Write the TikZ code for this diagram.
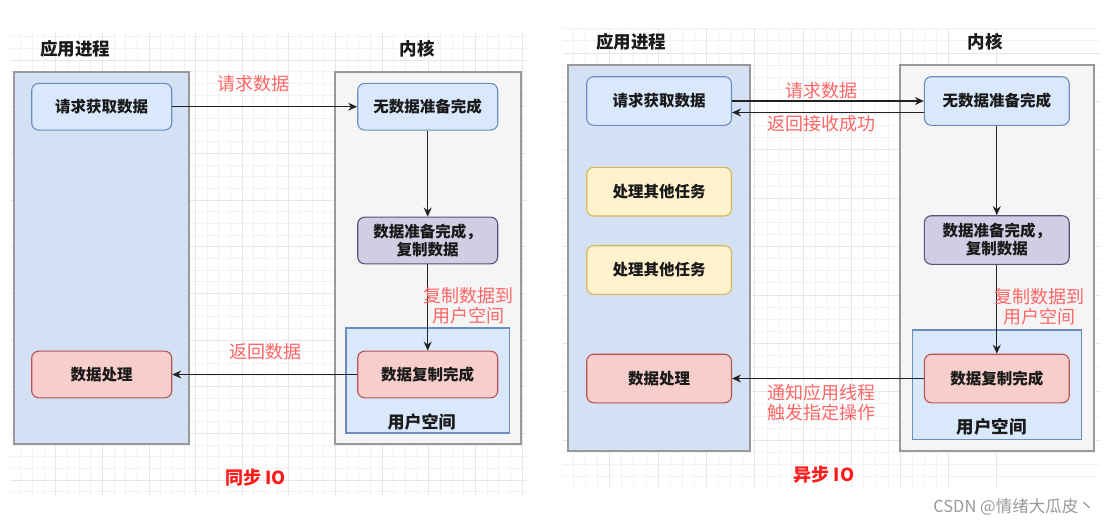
\documentclass[tikz,border=0pt]{standalone}
\usepackage{fontspec}
\setmainfont{Noto Sans CJK SC}
\usetikzlibrary{arrows.meta}
\definecolor{procfill}{HTML}{D4E1F5}
\definecolor{boxline}{HTML}{999999}
\definecolor{kernfill}{HTML}{F5F5F5}
\definecolor{bluefill}{HTML}{DAE8FC}
\definecolor{blueline}{HTML}{6C8EBF}
\definecolor{purpfill}{HTML}{D0CEE2}
\definecolor{purpline}{HTML}{56517E}
\definecolor{redfill}{HTML}{F8CECC}
\definecolor{redline}{HTML}{B85450}
\definecolor{yelfill}{HTML}{FFF2CC}
\definecolor{yelline}{HTML}{D6B656}
\definecolor{labred}{HTML}{FF6666}
\definecolor{iored}{HTML}{FF1A1A}
\definecolor{linecol}{HTML}{222222}
\definecolor{textcol}{HTML}{1A1A1A}
\definecolor{gridminor}{HTML}{F2F2F2}
\definecolor{gridmajor}{HTML}{E6E6E6}
\definecolor{wmcol}{HTML}{9A9A9A}
\tikzset{
  panel/.style={draw=boxline, line width=1.6pt, inner sep=0pt, rectangle},
  procpanel/.style={panel, fill=procfill},
  kernpanel/.style={panel, fill=kernfill},
  userbox/.style={draw=blueline, fill=bluefill, line width=1.1pt, inner sep=0pt, rectangle},
  stepnode/.style={rounded corners=7pt, line width=1.1pt, inner sep=0pt, align=center,
    text=textcol, font=\fontsize{15.5}{18}\selectfont\bfseries},
  bluenode/.style={stepnode, draw=blueline, fill=bluefill},
  purpnode/.style={stepnode, draw=purpline, fill=purpfill},
  rednode/.style={stepnode, draw=redline, fill=redfill},
  yelnode/.style={stepnode, draw=yelline, fill=yelfill},
  wL/.style={minimum width=140pt, minimum height=46.7pt},
  wR/.style={minimum width=144.8pt, minimum height=48.6pt},
  arr/.style={draw=linecol, line width=1.3pt, -{Stealth[length=9pt,width=8pt,inset=3pt]}},
  lab/.style={text=labred, align=center, inner sep=0pt, font=\fontsize{18}{20.5}\selectfont},
  title/.style={text=textcol, inner sep=0pt, font=\fontsize{17.5}{20}\selectfont\bfseries},
  iolab/.style={text=iored, inner sep=0pt, font=\fontsize{18}{20}\selectfont\bfseries},
  gminor/.style={draw=gridminor, line width=0.7pt},
  gmajor/.style={draw=gridmajor, line width=0.8pt}
}
\begin{document}
\begin{tikzpicture}[x=1pt,y=-1pt]
\useasboundingbox (0,0) rectangle (1117,528);
\fill[white] (0,0) rectangle (1117,528);
% ---- grids ----
\begin{scope}
  \clip (10,33) rectangle (527,495);
  \foreach \i in {-5,...,42} {
    \draw[gminor] ({55.6+11.66*\i},33) -- ({55.6+11.66*\i},495);
    \draw[gminor] (10,{60+11.67*\i}) -- (527,{60+11.67*\i});
  }
  \foreach \i in {-2,...,11} {
    \draw[gmajor] ({55.6+46.65*\i},33) -- ({55.6+46.65*\i},495);
    \draw[gmajor] (10,{60+46.68*\i}) -- (527,{60+46.68*\i});
  }
\end{scope}
\begin{scope}
  \clip (563,28) rectangle (1100,487);
  \foreach \i in {-46,...,4} {
    \draw[gminor] ({900+12.1*\i},28) -- ({900+12.1*\i},487);
  }
  \foreach \i in {-3,...,40} {
    \draw[gminor] (563,{52.9+12.1*\i}) -- (1100,{52.9+12.1*\i});
  }
  \foreach \i in {-12,...,2} {
    \draw[gmajor] ({900+48.4*\i},28) -- ({900+48.4*\i},487);
  }
  \foreach \i in {-1,...,10} {
    \draw[gmajor] (563,{52.9+48.4*\i}) -- (1100,{52.9+48.4*\i});
  }
\end{scope}

% ================= Left: synchronous IO =================
\node[title] (tProcL) at (75.3,49) {应用进程};
\node[title] (tKernL) at (417,49) {内核};
\node[procpanel, minimum width=175.5pt, minimum height=372pt] (procL) at (101.5,258) {};
\node[kernpanel, minimum width=186pt, minimum height=372pt] (kernL) at (428,258) {};
\node[userbox, minimum width=163.5pt, minimum height=105pt] (userL) at (427.7,380.5) {};
\node[title, font=\fontsize{17}{20}\selectfont\bfseries] (userLabL) at (421.7,421.7) {用户空间};

\node[bluenode, wL] (reqL) at (101.7,106.7) {请求获取数据};
\node[rednode, wL] (dataL) at (101.7,374.5) {数据处理};
\node[bluenode, wL] (noDataL) at (427.7,106.7) {无数据准备完成};
\node[purpnode, wL] (readyL) at (427.7,240.5) {数据准备完成，\\复制数据};
\node[rednode, wL] (copyL) at (427.7,374.5) {数据复制完成};

\draw[arr] (reqL.east) -- (noDataL.west);
\draw[arr] (noDataL.south) -- (readyL.north);
\draw[arr] (readyL.south) -- (copyL.north);
\draw[arr] (copyL.west) -- (dataL.east);

\node[lab] (lReqL) at (253,84) {请求数据};
\node[lab] (lRetL) at (265,352) {返回数据};
\node[lab] (lCopyL) at (468.5,305.5) {复制数据到\\用户空间};
\node[iolab] (ioL) at (255.6,478) {同步 IO};

% ================= Right: asynchronous IO =================
\node[title] (tProcR) at (631,41.7) {应用进程};
\node[title] (tKernR) at (985,41.7) {内核};
\node[procpanel, minimum width=181.9pt, minimum height=386pt] (procR) at (658.75,258) {};
\node[kernpanel, minimum width=193.8pt, minimum height=386pt] (kernR) at (996.9,258) {};
\node[userbox, minimum width=169.2pt, minimum height=109.5pt] (userR) at (996.9,384.7) {};
\node[title, font=\fontsize{17.5}{20}\selectfont\bfseries] (userLabR) at (991.7,427.3) {用户空间};

\node[bluenode, wR] (reqR) at (659.1,101) {请求获取数据};
\node[yelnode, wR] (other1) at (659.1,191.7) {处理其他任务};
\node[yelnode, wR] (other2) at (659.1,270) {处理其他任务};
\node[rednode, wR] (dataR) at (659.1,378.5) {数据处理};
\node[bluenode, wR] (noDataR) at (996.8,101) {无数据准备完成};
\node[purpnode, wR] (readyR) at (996.8,240) {数据准备完成，\\复制数据};
\node[rednode, wR] (copyR) at (996.8,378.5) {数据复制完成};

\draw[arr] (reqR.east) -- (noDataR.west);
\draw[arr] ([yshift=-11.5pt]noDataR.west) -- ([yshift=-11.5pt]reqR.east);
\draw[arr] (noDataR.south) -- (readyR.north);
\draw[arr] (readyR.south) -- (copyR.north);
\draw[arr] (copyR.west) -- (dataR.east);

\node[lab] (lReqR) at (821.7,90.7) {请求数据};
\node[lab] (lRetR) at (821.7,124) {返回接收成功};
\node[lab] (lNotR) at (821.7,402.5) {通知应用线程\\触发指定操作};
\node[lab] (lCopyR) at (1039.7,306.5) {复制数据到\\用户空间};
\node[iolab] (ioR) at (824,475) {异步 IO};

\node[text=wmcol, inner sep=0pt, font=\fontsize{16.5}{18}\selectfont] (wm) at (1014,507) {CSDN @情绪大瓜皮丶};
\end{tikzpicture}
\end{document}
